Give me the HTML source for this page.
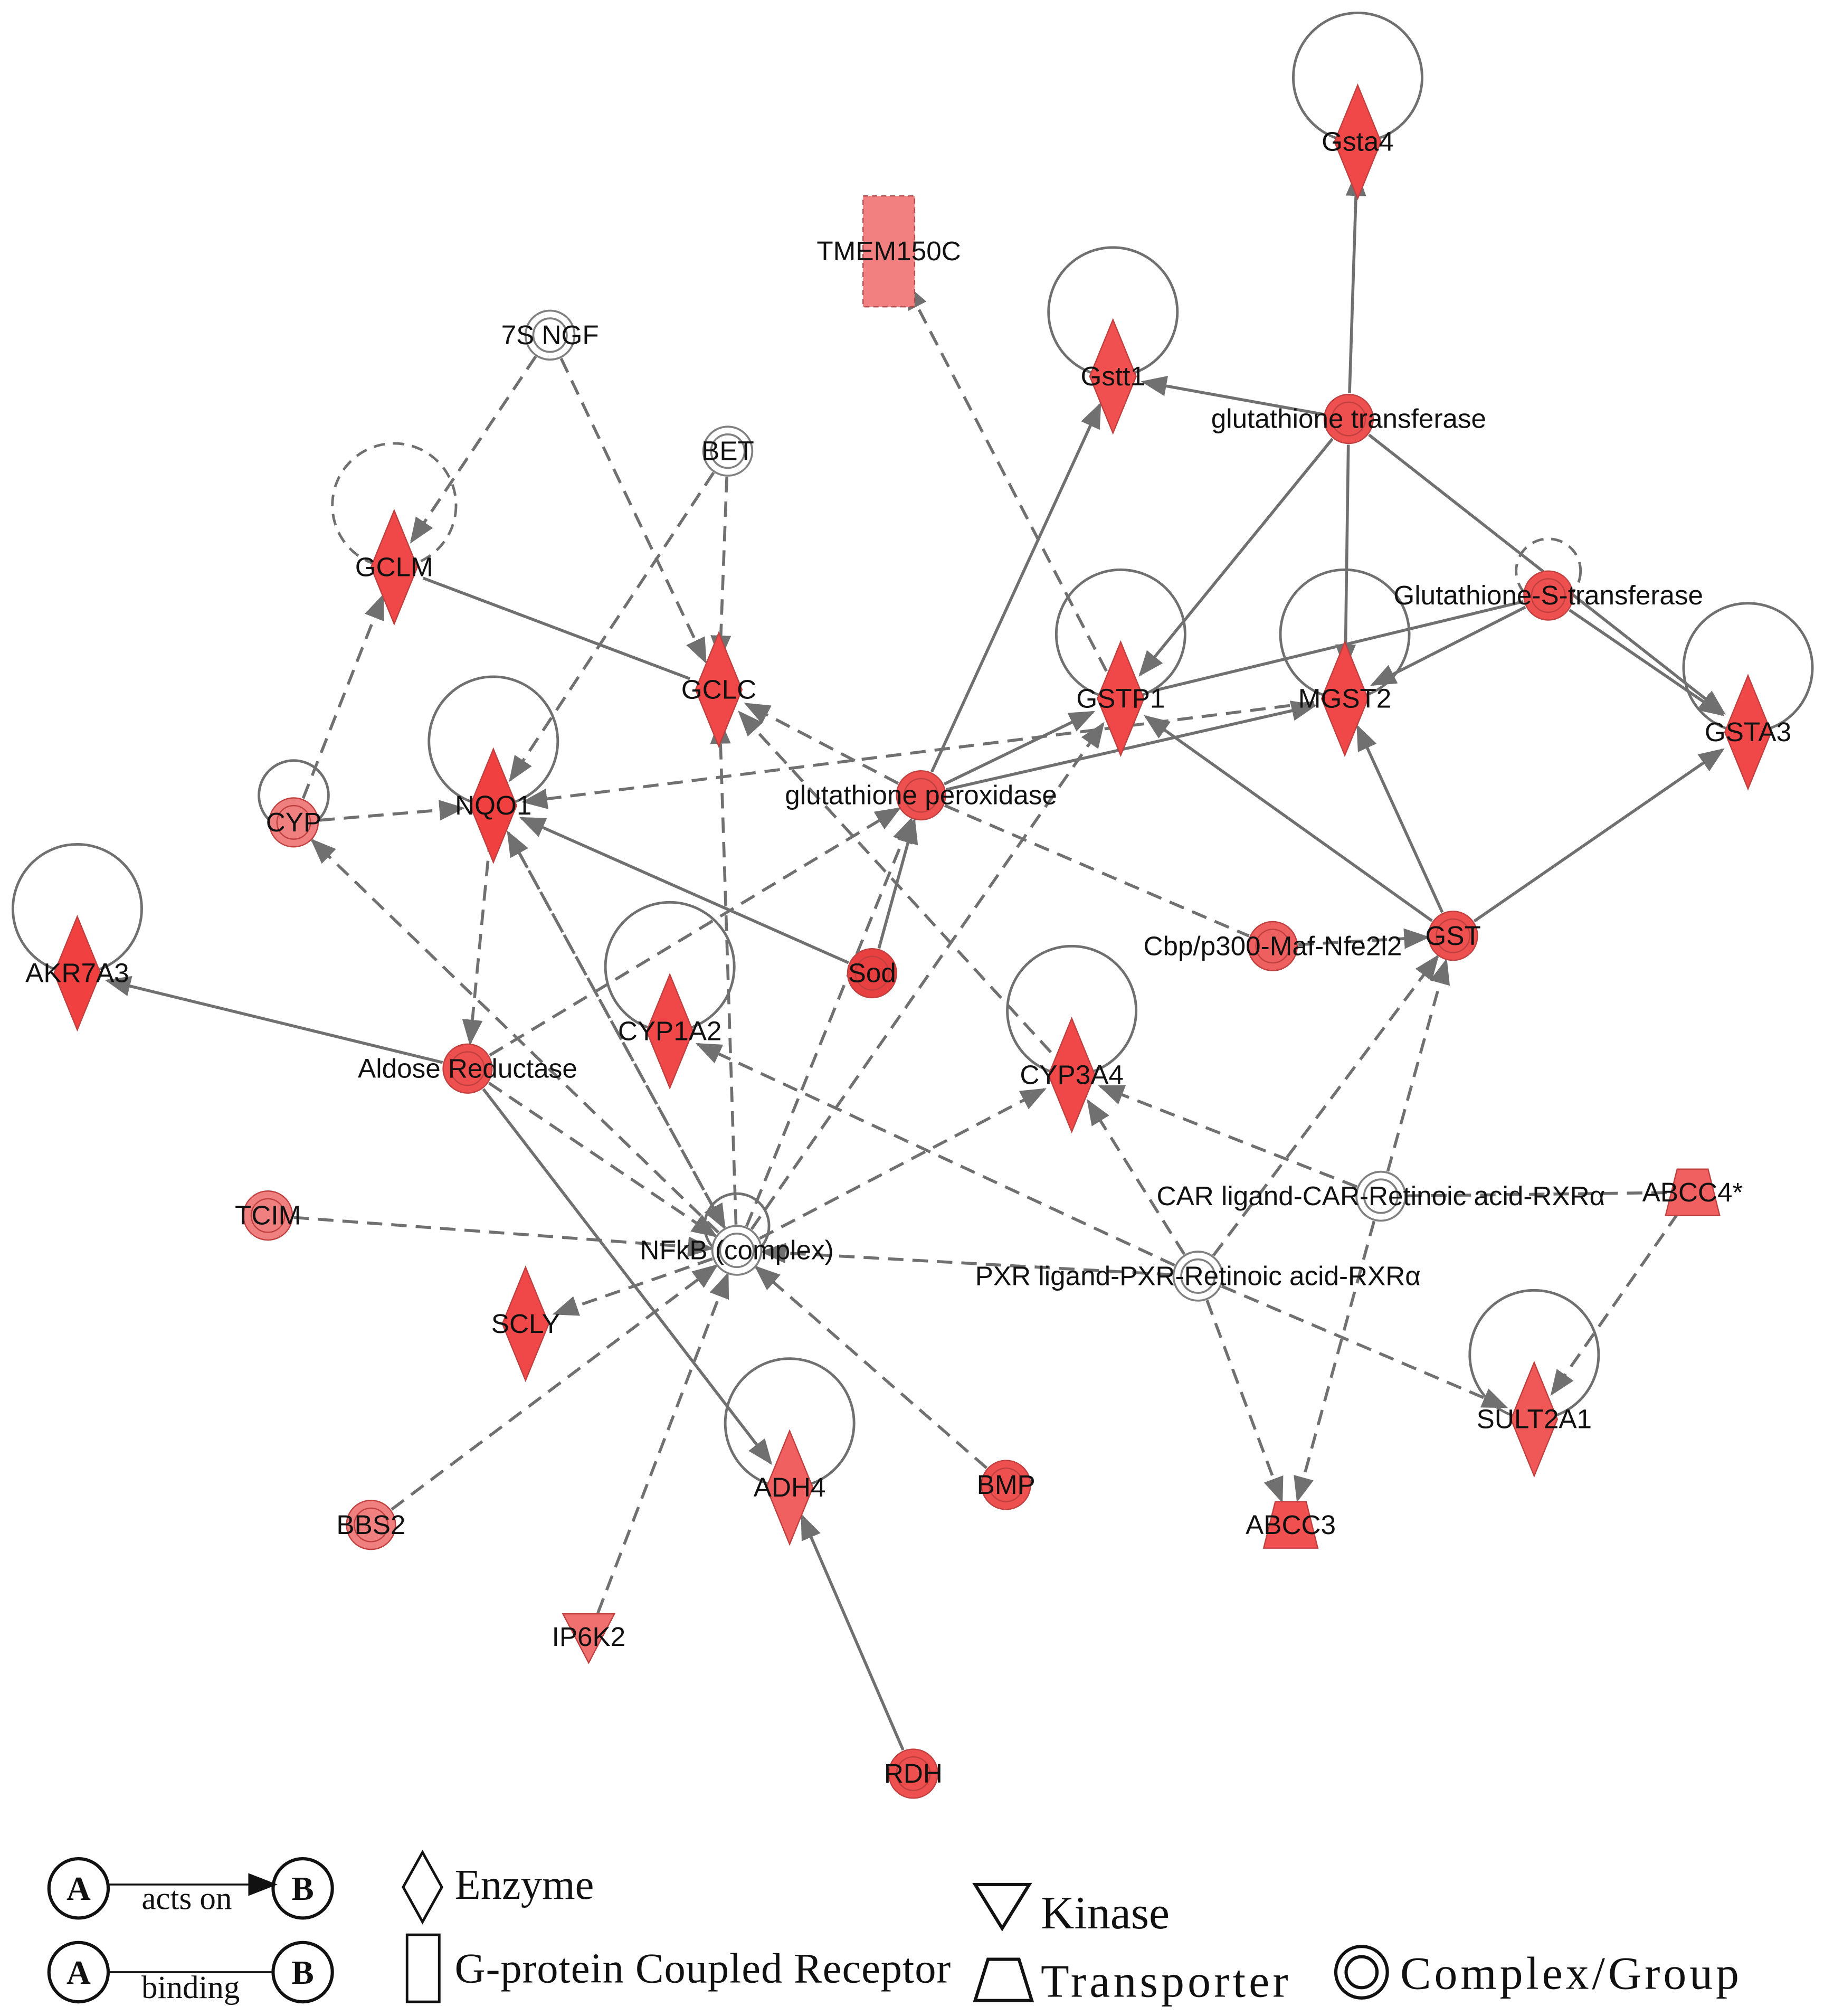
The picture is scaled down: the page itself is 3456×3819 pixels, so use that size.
<!DOCTYPE html>
<html><head><meta charset="utf-8"><style>
html,body{margin:0;padding:0;background:#fff}
svg{display:block}
text{font-family:"Liberation Sans",sans-serif;font-size:21px;fill:#111}
.lg{font-family:"Liberation Serif",serif;font-size:33px;fill:#111}
</style></head><body>
<svg id="s" width="3456" height="3819" viewBox="0 0 1416 1564" preserveAspectRatio="none" xmlns="http://www.w3.org/2000/svg">
<defs>
<marker id="a2" markerWidth="20" markerHeight="16" refX="18" refY="8" orient="auto" markerUnits="userSpaceOnUse"><path d="M0,0 L20,8 L0,16 z" fill="#707070"/></marker></defs>
<g id="loops" fill="none" stroke="#707070" stroke-width="2"></g>
<g id="edges"></g>
<g id="nodes"></g>
<g id="labels"></g>
<!-- legend -->
<g stroke="#111" stroke-width="2.5" fill="none">
<circle cx="61" cy="1465" r="23"/><circle cx="235" cy="1465" r="23"/>
<line x1="84" y1="1462" x2="198" y2="1462" stroke-width="1.5"/>
<path d="M194,1455 L212,1462 L194,1469z" fill="#111"/>
<circle cx="61" cy="1530" r="23"/><circle cx="235" cy="1530" r="23"/>
<line x1="84" y1="1530" x2="212" y2="1530" stroke-width="1.5"/>
<path d="M328,1437 L343,1464 L328,1491 L313,1464z" stroke-width="2"/>
<rect x="316" y="1501" width="25" height="52" stroke-width="2"/>
<path d="M757,1462 L799,1462 L778,1496z" stroke-width="2.5"/>
<path d="M767,1520 L791,1520 L801,1552 L757,1552z" stroke-width="2.5"/>
<circle cx="1057" cy="1530" r="20"/><circle cx="1057" cy="1530" r="12"/>
</g>
<text x="61" y="1474" text-anchor="middle" style="font-family:'Liberation Serif',serif;font-size:26px;font-weight:bold">A</text>
<text x="235" y="1474" text-anchor="middle" style="font-family:'Liberation Serif',serif;font-size:26px;font-weight:bold">B</text>
<text x="61" y="1539" text-anchor="middle" style="font-family:'Liberation Serif',serif;font-size:26px;font-weight:bold">A</text>
<text x="235" y="1539" text-anchor="middle" style="font-family:'Liberation Serif',serif;font-size:26px;font-weight:bold">B</text>
<text class="lg" x="145" y="1481" text-anchor="middle" style="font-size:25px">acts on</text>
<text class="lg" x="148" y="1550" text-anchor="middle" style="font-size:25px">binding</text>
<text class="lg" x="353" y="1473">Enzyme</text>
<text class="lg" x="353" y="1538" textLength="385">G-protein Coupled Receptor</text>
<text class="lg" x="808" y="1496" style="font-size:36px">Kinase</text>
<text class="lg" x="808" y="1549" style="font-size:36px" textLength="192">Transporter</text>
<text class="lg" x="1087" y="1543" style="font-size:36px" textLength="263">Complex/Group</text>
</svg>
<script>
const NS="http://www.w3.org/2000/svg";
const N={
Gsta4:[1054,110,'d',"#f04848"],TMEM150C:[690,195,'r',"#f28080"],"7S NGF":[427,260,'c0'],BET:[565,350,'c0'],
Gstt1:[864,292,'d',"#f05050"],"glutathione transferase":[1047,325,'c',"#ee5050"],GCLM:[306,440,'d',"#f04848"],
"Glutathione-S-transferase":[1202,462,'c',"#ee5050"],GCLC:[558,535,'d',"#f04848"],GSTP1:[870,542,'d',"#f04848"],
MGST2:[1044,542,'d',"#f04848"],GSTA3:[1357,568,'d',"#f04848"],CYP:[228,638,'c',"#f08080"],NQO1:[383,625,'d',"#f04040"],
"glutathione peroxidase":[715,617,'c',"#ee5050"],AKR7A3:[60,755,'d',"#f04040"],Sod:[677,755,'c',"#e84040"],
"Cbp/p300-Maf-Nfe2l2":[988,734,'c',"#ee6060"],GST:[1128,726,'c',"#ee5050"],CYP1A2:[520,800,'d',"#f04848"],
"Aldose Reductase":[363,829,'c',"#ee5050"],CYP3A4:[832,834,'d',"#f04848"],"CAR ligand-CAR-Retinoic acid-RXRα":[1072,928,'c0'],
"ABCC4*":[1314,925,'t',"#f06060"],TCIM:[208,943,'c',"#f08080"],"NFkB (complex)":[572,970,'c0'],
"PXR ligand-PXR-Retinoic acid-RXRα":[930,990,'c0'],SCLY:[408,1027,'d',"#f04848"],SULT2A1:[1191,1101,'d',"#f05858"],
ADH4:[613,1154,'d',"#f06060"],BMP:[781,1152,'c',"#ee5050"],BBS2:[288,1183,'c',"#f08080"],ABCC3:[1002,1183,'t',"#f05050"],
IP6K2:[457,1270,'k',"#f07070"],RDH:[709,1376,'c',"#ee5050"]};
const loops=[["Gsta4",50,1],["Gstt1",50,1],["GCLM",48,0],["Glutathione-S-transferase",25,0],["GSTP1",50,1],["MGST2",50,1],["GSTA3",50,1],["CYP",27,1],["NQO1",50,1],["AKR7A3",50,1],["CYP1A2",50,1],["CYP3A4",50,1],["NFkB (complex)",25,1],["SULT2A1",50,1],["ADH4",50,1]];
const E=[
["GCLM","GCLC",1,0],["glutathione transferase","Gsta4",1,1],["glutathione transferase","Gstt1",1,1],["glutathione transferase","GSTP1",1,1],
["glutathione transferase","MGST2",1,1],["glutathione transferase","GSTA3",1,1],["Glutathione-S-transferase","GSTA3",1,1],
["Glutathione-S-transferase","MGST2",1,1],["Glutathione-S-transferase","GSTP1",1,0],["glutathione peroxidase","Gstt1",1,1],
["glutathione peroxidase","GSTP1",1,1],["glutathione peroxidase","MGST2",1,1],["Sod","glutathione peroxidase",1,1],["Sod","NQO1",1,1],
["GST","GSTP1",1,1],["GST","MGST2",1,1],["GST","GSTA3",1,1],["Aldose Reductase","AKR7A3",1,1],["Aldose Reductase","ADH4",1,1],["RDH","ADH4",1,1],
["7S NGF","GCLM",0,1],["7S NGF","GCLC",0,1],["BET","GCLC",0,1],["BET","NQO1",0,1],["CYP","GCLM",0,1],["CYP","NQO1",0,1],
["NQO1","Aldose Reductase",0,1],["MGST2","NQO1",0,1],["glutathione peroxidase","GCLC",0,1],["glutathione peroxidase","Cbp/p300-Maf-Nfe2l2",0,0],
["Cbp/p300-Maf-Nfe2l2","GST",0,1],["GSTP1","TMEM150C",0,1],["Aldose Reductase","glutathione peroxidase",0,1],["NFkB (complex)","CYP",0,1],
["NFkB (complex)","NQO1",0,1],["NQO1","NFkB (complex)",0,1],["NFkB (complex)","GCLC",0,1],["NFkB (complex)","glutathione peroxidase",0,1],
["NFkB (complex)","GSTP1",0,1],["NFkB (complex)","CYP3A4",0,1],["CYP3A4","GCLC",0,1],["Aldose Reductase","NFkB (complex)",0,1],
["TCIM","NFkB (complex)",0,1],["NFkB (complex)","SCLY",0,1],["BBS2","NFkB (complex)",0,1],["IP6K2","NFkB (complex)",0,1],["BMP","NFkB (complex)",0,1],
["PXR ligand-PXR-Retinoic acid-RXRα","NFkB (complex)",0,1],["PXR ligand-PXR-Retinoic acid-RXRα","CYP3A4",0,1],["PXR ligand-PXR-Retinoic acid-RXRα","GST",0,1],
["PXR ligand-PXR-Retinoic acid-RXRα","ABCC3",0,1],["PXR ligand-PXR-Retinoic acid-RXRα","SULT2A1",0,1],["PXR ligand-PXR-Retinoic acid-RXRα","CYP1A2",0,1],
["CAR ligand-CAR-Retinoic acid-RXRα","CYP3A4",0,1],["CAR ligand-CAR-Retinoic acid-RXRα","GST",0,1],["CAR ligand-CAR-Retinoic acid-RXRα","ABCC3",0,1],
["ABCC4*","CAR ligand-CAR-Retinoic acid-RXRα",0,0],["ABCC4*","SULT2A1",0,1]];
function el(t,a,p){const e=document.createElementNS(NS,t);for(const k in a)e.setAttribute(k,a[k]);document.getElementById(p).appendChild(e);return e;}
function rad(n){const t=N[n][2];return t=='d'?24:t=='r'?30:20;}
for(const[n,r,s] of loops){const[x,y]=N[n];el('circle',{cx:x,cy:y-r+(r>30?0:6),r:r,'stroke-dasharray':s?'':'9 6'},'loops');}
for(const[a,b,s,ar] of E){const[x1,y1]=N[a],[x2,y2]=N[b];const dx=x2-x1,dy=y2-y1,L=Math.hypot(dx,dy);
const r1=rad(a),r2=rad(b);const ux=dx/L,uy=dy/L;
const o={x1:x1+ux*r1,y1:y1+uy*r1,x2:x2-ux*r2,y2:y2-uy*r2,stroke:'#707070','stroke-width':2.3,fill:'none'};
if(!s)o['stroke-dasharray']='12 7';if(ar)o['marker-end']='url(#a2)';el('line',o,'edges');}
for(const n in N){const[x,y,t,c]=N[n];
if(t=='d')el('path',{d:`M${x},${y-44} L${x+18},${y} L${x},${y+44} L${x-18},${y}z`,fill:c,stroke:'#c04040','stroke-width':1},'nodes');
else if(t=='r')el('rect',{x:x-20,y:y-43,width:40,height:86,fill:c,stroke:'#b05050','stroke-dasharray':'4 3'},'nodes');
else if(t=='c'){el('circle',{cx:x,cy:y,r:19,fill:c,stroke:'#c04040'},'nodes');el('circle',{cx:x,cy:y,r:13,fill:'none',stroke:'#c04040','stroke-width':1},'nodes');}
else if(t=='c0'){el('circle',{cx:x,cy:y,r:19,fill:'#fff',stroke:'#808080','stroke-width':1.5},'nodes');el('circle',{cx:x,cy:y,r:13,fill:'none',stroke:'#808080','stroke-width':1.5},'nodes');}
else if(t=='t')el('path',{d:`M${x-12},${y-18} L${x+12},${y-18} L${x+21},${y+18} L${x-21},${y+18}z`,fill:c,stroke:'#c04040'},'nodes');
else if(t=='k')el('path',{d:`M${x-20},${y-18} L${x+20},${y-18} L${x},${y+20}z`,fill:c,stroke:'#c04040'},'nodes');
const tx=el('text',{x:x,y:y+7,'text-anchor':'middle'},'labels');tx.textContent=n;}
</script>
</body></html>
